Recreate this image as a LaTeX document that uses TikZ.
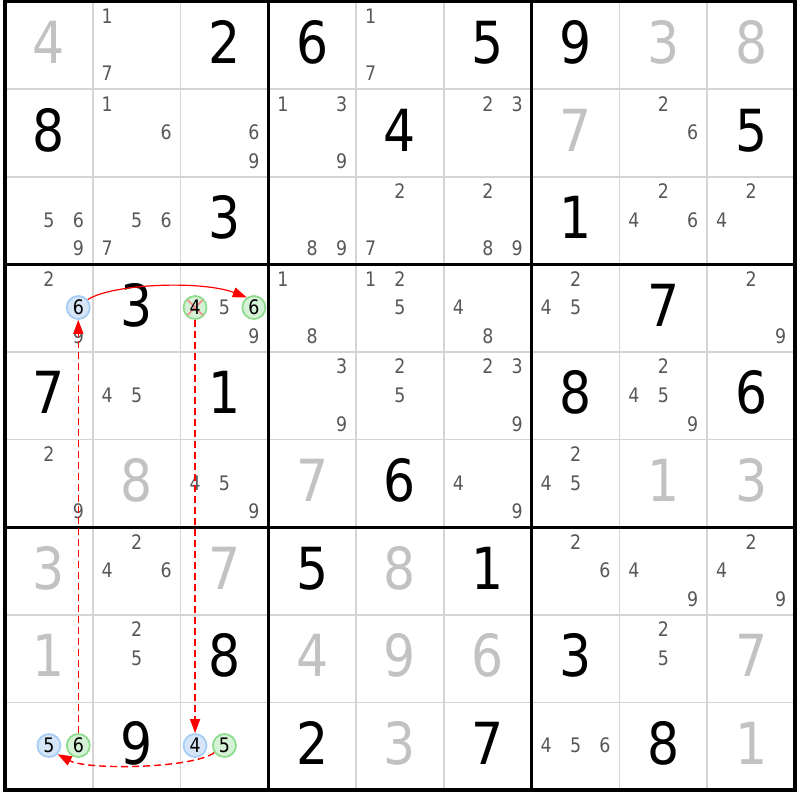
\documentclass[tikz,border=0pt]{standalone}
\usepackage{fontspec}
\newfontfamily\df[FakeStretch=0.87]{DejaVu Sans}
\usetikzlibrary{arrows.meta}
\definecolor{candcol}{HTML}{585858}
\definecolor{solvcol}{HTML}{C2C2C2}
\definecolor{gridcol}{HTML}{D4D4D4}
\definecolor{bfill}{HTML}{D6E6F8}
\definecolor{bring}{HTML}{A6CDF5}
\definecolor{gfill}{HTML}{D6F2D6}
\definecolor{gring}{HTML}{8FDC8F}
\definecolor{xcol}{HTML}{F09090}
\newcommand\sdkbig{\fontsize{58}{58}\df}
\newcommand\sdksmall{\fontsize{20}{20}\df}
% row col digit
\newcommand\sdkG[3]{\node[bigd] (g-#1-#2) at ({5+87.78*(#2+0.5)},{-(1.6+87.6*#1+61.8)}) {#3};}
\newcommand\sdkS[3]{\node[bigd,text=solvcol] (s-#1-#2) at ({5+87.78*(#2+0.5)},{-(1.6+87.6*#1+61.8)}) {#3};}
\newcommand\sdkC[3]{%
  \pgfmathtruncatemacro\ci{mod(#3-1,3)}%
  \pgfmathtruncatemacro\cj{div(#3-1,3)}%
  \node[cnd] (k-#1-#2-#3) at ({5+87.78*#2+14.5+29.4*\ci},{-(1.6+87.6*#1+14.5+28.6*\cj+7.3)}) {#3};}
\newcommand\sdkCs[3]{\foreach \dd in {#3} {\sdkC{#1}{#2}{\dd}}}
% row col digit fill ring
\newcommand\sdkO[5]{%
  \pgfmathtruncatemacro\ci{mod(#3-1,3)}%
  \pgfmathtruncatemacro\cj{div(#3-1,3)}%
  \node[circ,fill=#4,draw=#5] (c-#1-#2-#3) at ({5+87.78*#2+14.5+29.4*\ci},{-(1.6+87.6*#1+14.5+28.6*\cj)}) {};}
\newcommand\sdkT[3]{\node[cdig] (t-#1-#2-#3) at (c-#1-#2-#3) {#3};}
\begin{document}
\begin{tikzpicture}[x=1pt,y=1pt,
  bigd/.style={anchor=base,inner sep=0pt,font=\sdkbig,text=black},
  cnd/.style={anchor=base,inner sep=0pt,font=\sdksmall,text=candcol},
  cdig/.style={anchor=center,inner sep=0pt,font=\sdksmall,text=black},
  circ/.style={circle,minimum size=23pt,inner sep=0pt,line width=1.8pt},
  thinl/.style={draw=gridcol,line width=1.6pt},
  thickl/.style={draw=black,line width=3.4pt},
  rdash/.style={draw=red,line width=1.4pt,dash pattern=on 7pt off 4pt},
  rsolid/.style={draw=red,line width=1.2pt},
  tip/.style={-{Triangle[length=14pt,width=10pt]}}]
\useasboundingbox (0,0) rectangle (800,-800);
\fill[white] (0,0) rectangle (800,-800);
% grid
\foreach \i in {1,2,4,5,7,8} {
  \draw[thinl] ({5+87.78*\i},-1.6) -- ({5+87.78*\i},{-(1.6+87.6*9)});
  \draw[thinl] (5,{-(1.6+87.6*\i)}) -- ({5+87.78*9},{-(1.6+87.6*\i)});
}
\foreach \i in {0,3,6,9} {
  \draw[thickl] ({5+87.78*\i},{-1.6+1.7}) -- ({5+87.78*\i},{-(1.6+87.6*9)-1.7});
  \draw[thickl] ({5-1.7},{-(1.6+87.6*\i)}) -- ({5+87.78*9+1.7},{-(1.6+87.6*\i)});
}
% row 0
\sdkS{0}{0}{4} \sdkCs{0}{1}{1,7} \sdkG{0}{2}{2} \sdkG{0}{3}{6} \sdkCs{0}{4}{1,7}
\sdkG{0}{5}{5} \sdkG{0}{6}{9} \sdkS{0}{7}{3} \sdkS{0}{8}{8}
% row 1
\sdkG{1}{0}{8} \sdkCs{1}{1}{1,6} \sdkCs{1}{2}{6,9} \sdkCs{1}{3}{1,3,9} \sdkG{1}{4}{4}
\sdkCs{1}{5}{2,3} \sdkS{1}{6}{7} \sdkCs{1}{7}{2,6} \sdkG{1}{8}{5}
% row 2
\sdkCs{2}{0}{5,6,9} \sdkCs{2}{1}{5,6,7} \sdkG{2}{2}{3} \sdkCs{2}{3}{8,9} \sdkCs{2}{4}{2,7}
\sdkCs{2}{5}{2,8,9} \sdkG{2}{6}{1} \sdkCs{2}{7}{2,4,6} \sdkCs{2}{8}{2,4}
% row 3
\sdkCs{3}{0}{2,9} \sdkG{3}{1}{3} \sdkCs{3}{2}{5,9} \sdkCs{3}{3}{1,8} \sdkCs{3}{4}{1,2,5}
\sdkCs{3}{5}{4,8} \sdkCs{3}{6}{2,4,5} \sdkG{3}{7}{7} \sdkCs{3}{8}{2,9}
% row 4
\sdkG{4}{0}{7} \sdkCs{4}{1}{4,5} \sdkG{4}{2}{1} \sdkCs{4}{3}{3,9} \sdkCs{4}{4}{2,5}
\sdkCs{4}{5}{2,3,9} \sdkG{4}{6}{8} \sdkCs{4}{7}{2,4,5,9} \sdkG{4}{8}{6}
% row 5
\sdkCs{5}{0}{2,9} \sdkS{5}{1}{8} \sdkCs{5}{2}{4,5,9} \sdkS{5}{3}{7} \sdkG{5}{4}{6}
\sdkCs{5}{5}{4,9} \sdkCs{5}{6}{2,4,5} \sdkS{5}{7}{1} \sdkS{5}{8}{3}
% row 6
\sdkS{6}{0}{3} \sdkCs{6}{1}{2,4,6} \sdkS{6}{2}{7} \sdkG{6}{3}{5} \sdkS{6}{4}{8}
\sdkG{6}{5}{1} \sdkCs{6}{6}{2,6} \sdkCs{6}{7}{4,9} \sdkCs{6}{8}{2,4,9}
% row 7
\sdkS{7}{0}{1} \sdkCs{7}{1}{2,5} \sdkG{7}{2}{8} \sdkS{7}{3}{4} \sdkS{7}{4}{9}
\sdkS{7}{5}{6} \sdkG{7}{6}{3} \sdkCs{7}{7}{2,5} \sdkS{7}{8}{7}
% row 8
\sdkG{8}{1}{9} \sdkG{8}{3}{2} \sdkS{8}{4}{3} \sdkG{8}{5}{7} \sdkCs{8}{6}{4,5,6}
\sdkG{8}{7}{8} \sdkS{8}{8}{1}
% highlighted candidates
\sdkO{3}{0}{6}{bfill}{bring}
\sdkO{3}{2}{4}{gfill}{gring}
\sdkO{3}{2}{6}{gfill}{gring}
\sdkO{8}{0}{5}{bfill}{bring}
\sdkO{8}{0}{6}{gfill}{gring}
\sdkO{8}{2}{4}{bfill}{bring}
\sdkO{8}{2}{5}{gfill}{gring}
\draw[xcol,line width=1.8pt] ([shift={(-7.5,-7.5)}]c-3-2-4.center) -- ([shift={(7.5,7.5)}]c-3-2-4.center);
\draw[xcol,line width=1.8pt] ([shift={(-7.5,7.5)}]c-3-2-4.center) -- ([shift={(7.5,-7.5)}]c-3-2-4.center);
\sdkT{3}{0}{6} \sdkT{3}{2}{4} \sdkT{3}{2}{6}
\sdkT{8}{0}{5} \sdkT{8}{0}{6} \sdkT{8}{2}{4} \sdkT{8}{2}{5}
% links
\draw[rdash,tip] (c-8-0-6) -- (c-3-0-6);
\draw[rsolid,tip] (c-3-0-6.40) .. controls +(25,16) and +(-45,17) .. (c-3-2-6.125);
\draw[rdash,tip] (c-3-2-4) -- (c-8-2-4);
\draw[rdash,tip] (c-8-2-5.215) .. controls +(-22,-16) and +(30,-16) .. (c-8-0-5.315);
\end{tikzpicture}
\end{document}
